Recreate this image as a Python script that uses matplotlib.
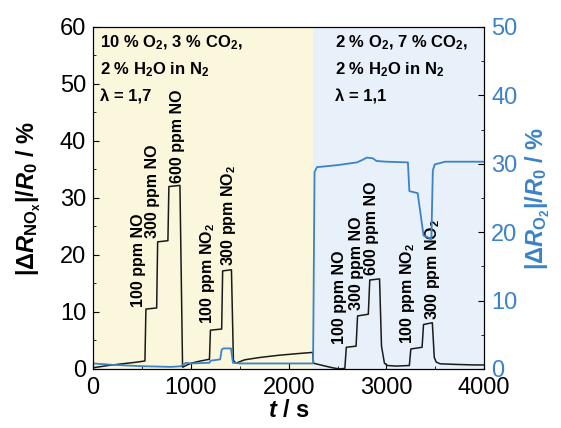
import matplotlib
matplotlib.use("Agg")
import matplotlib.pyplot as plt
from matplotlib.ticker import MultipleLocator

plt.rcParams["font.family"] = ["Liberation Sans", "DejaVu Sans"]
plt.rcParams["mathtext.fontset"] = "custom"
plt.rcParams["mathtext.rm"] = "Liberation Sans:bold"
plt.rcParams["mathtext.it"] = "Liberation Sans:italic:bold"
plt.rcParams["mathtext.bf"] = "Liberation Sans:bold"

# NOx sensor response (left axis)
t_nox = [0, 150, 300, 450, 530, 540, 650, 660, 765, 775, 888, 915, 950, 1000, 1100, 1190,
         1200, 1315, 1325, 1415, 1435, 1460, 1550, 1700, 1900, 2100, 2245, 2255, 2350,
         2450, 2520, 2575, 2590, 2690, 2705, 2815, 2830, 2930, 2950, 2980, 3010, 3100,
         3235, 3250, 3365, 3380, 3470, 3490, 3510, 3550, 3700, 3900, 4000]
v_nox = [0.2, 0.6, 0.9, 1.2, 1.4, 10.5, 10.7, 22.3, 22.5, 32.0, 32.2, 0.3, 0.6, 1.0, 1.4, 1.7,
         6.8, 7.0, 17.2, 17.4, 1.5, 1.0, 1.6, 2.0, 2.4, 2.7, 2.9, 1.0, 0.6,
         0.2, 0.0, 0.1, 3.8, 4.0, 9.3, 9.6, 15.6, 15.8, 4.0, 1.0, 0.6, 0.5,
         0.6, 3.5, 3.8, 7.8, 8.1, 2.0, 1.2, 0.9, 0.8, 0.7, 0.7]

# O2 sensor response (right axis)
t_o2 = [0, 200, 500, 800, 900, 950, 1000, 1190, 1200, 1300, 1315, 1330, 1410, 1430, 1500,
        1800, 2100, 2250, 2265, 2290, 2500, 2700, 2760, 2800, 2860, 2900, 3000, 3220, 3235,
        3320, 3380, 3460, 3475, 3495, 3600, 4000]
v_o2 = [0.8, 0.6, 0.4, 0.3, 0.4, 0.9, 0.8, 0.9, 1.2, 1.4, 2.8, 3.0, 3.0, 0.9, 0.8,
        0.8, 0.8, 0.8, 28.8, 29.5, 29.8, 30.2, 30.6, 30.9, 30.8, 30.4, 30.3, 30.2, 26.0,
        25.7, 19.5, 19.0, 29.0, 29.9, 30.3, 30.3]

switch_t = 2250
labels = ["100 ppm NO", "300 ppm NO", "600 ppm NO", "100 ppm NO$_2$", "300 ppm NO$_2$",
          "100 ppm NO", "300 ppm NO", "600 ppm NO", "100 ppm NO$_2$", "300 ppm NO$_2$"]
label_t = [460, 605, 860, 1165, 1380, 2520, 2695, 2850, 3215, 3470]
label_v = [10.9, 23.0, 32.6, 7.8, 18.1, 4.3, 10.3, 16.4, 4.3, 8.6]

blue = "#3b82c8"

fig = plt.figure(figsize=(5.61, 4.28), dpi=100)
ax = fig.add_axes([0.166, 0.138, 0.697, 0.799])
ax.axvspan(0, switch_t, color="#faf7dc", zorder=0, lw=0)
ax.axvspan(switch_t, 4000, color="#e8f0fa", zorder=0, lw=0)
ax.plot(t_nox, v_nox, color="#1a1a1a", lw=1.1, zorder=3)
ax.set_xlim(0, 4000)
ax.set_ylim(0, 60)
ax.xaxis.set_major_locator(MultipleLocator(1000))
ax.xaxis.set_minor_locator(MultipleLocator(500))
ax.yaxis.set_major_locator(MultipleLocator(10))
ax.yaxis.set_minor_locator(MultipleLocator(5))
ax.tick_params(direction="in", labelsize=17, length=4)
ax.tick_params(axis="y", pad=5)
ax.tick_params(axis="x", pad=6)
ax.tick_params(which="minor", direction="in", length=2.5)
ax.set_xlabel(r"$t$ / s", fontsize=17, fontweight="bold", labelpad=0)
ax.set_ylabel(r"$|\Delta R_{\mathrm{NO_x}}|/R_0$ / %", fontsize=17, fontweight="bold", labelpad=12)

ax2 = ax.twinx()
ax2.plot(t_o2, v_o2, color=blue, lw=1.3, zorder=2)
ax2.set_ylim(0, 50)
ax2.yaxis.set_major_locator(MultipleLocator(10))
ax2.yaxis.set_minor_locator(MultipleLocator(5))
ax2.tick_params(direction="in", labelsize=17, length=4, pad=5, labelcolor=blue)
ax2.tick_params(which="minor", direction="in", length=2.5)
ax2.set_ylabel(r"$|\Delta R_{\mathrm{O_2}}|/R_0$ / %", fontsize=17, fontweight="bold",
               color=blue, labelpad=4)

for s, t, v in zip(labels, label_t, label_v):
    ax.text(t, v, s, rotation=90, ha="center", va="bottom", fontsize=11.5,
            fontweight="bold", zorder=4)

ax.text(70, 57.2, "10 % O$_2$, 3 % CO$_2$,", fontsize=12, fontweight="bold", va="center")
ax.text(70, 52.5, "2 % H$_2$O in N$_2$", fontsize=12, fontweight="bold", va="center")
ax.text(70, 47.8, "λ = 1,7", fontsize=12, fontweight="bold", va="center")
ax.text(2475, 57.2, "2 % O$_2$, 7 % CO$_2$,", fontsize=12, fontweight="bold", va="center")
ax.text(2475, 52.5, "2 % H$_2$O in N$_2$", fontsize=12, fontweight="bold", va="center")
ax.text(2475, 47.8, "λ = 1,1", fontsize=12, fontweight="bold", va="center")

fig.savefig("out.png", dpi=100)
